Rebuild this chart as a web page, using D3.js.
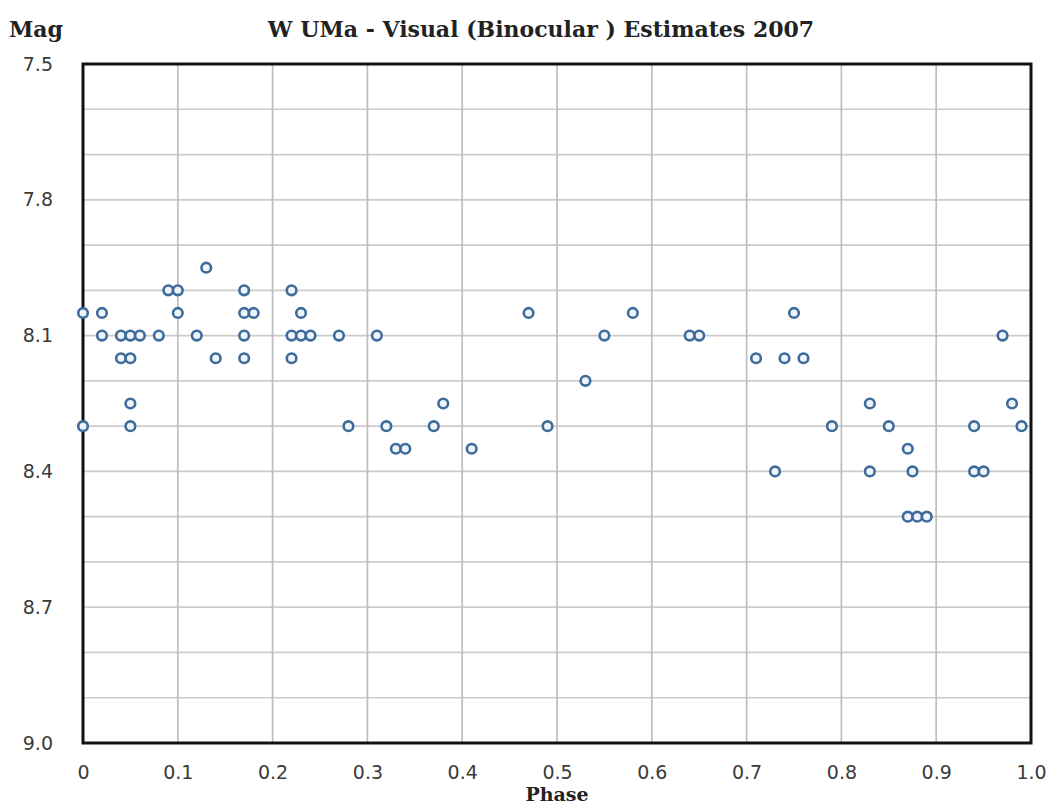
<!DOCTYPE html>
<html>
<head>
<meta charset="utf-8">
<script src="https://cdn.jsdelivr.net/npm/d3@7"></script>
<style>
  html, body { margin: 0; padding: 0; background: #fff; }
  svg { display: block; }
</style>
</head>
<body>
<div id="chart"></div>
<script>
// ---- Data ----
const title = "W UMa - Visual (Binocular ) Estimates 2007";
const xLabel = "Phase";
const yLabel = "Mag";
const xTicks = [0, 0.1, 0.2, 0.3, 0.4, 0.5, 0.6, 0.7, 0.8, 0.9, 1.0];
const xTickLabels = ["0", "0.1", "0.2", "0.3", "0.4", "0.5", "0.6", "0.7", "0.8", "0.9", "1.0"];
const yTicks = [7.5, 7.8, 8.1, 8.4, 8.7, 9.0];
const yTickLabels = ["7.5", "7.8", "8.1", "8.4", "8.7", "9.0"];
const phase = [
  0.13,
  0.09, 0.10, 0.17, 0.22,
  0.00, 0.02, 0.10, 0.17, 0.18, 0.23, 0.47, 0.58, 0.75,
  0.02, 0.04, 0.05, 0.06, 0.08, 0.12, 0.17, 0.22, 0.23, 0.24, 0.27, 0.31, 0.55, 0.64, 0.65, 0.97,
  0.04, 0.05, 0.14, 0.17, 0.22, 0.71, 0.74, 0.76,
  0.53,
  0.05, 0.38, 0.83, 0.98,
  0.00, 0.05, 0.28, 0.32, 0.37, 0.49, 0.79, 0.85, 0.94, 0.99,
  0.33, 0.34, 0.41, 0.87,
  0.73, 0.83, 0.875, 0.94, 0.95,
  0.87, 0.88, 0.89
];
const mag = [
  7.95,
  8.00, 8.00, 8.00, 8.00,
  8.05, 8.05, 8.05, 8.05, 8.05, 8.05, 8.05, 8.05, 8.05,
  8.10, 8.10, 8.10, 8.10, 8.10, 8.10, 8.10, 8.10, 8.10, 8.10, 8.10, 8.10, 8.10, 8.10, 8.10, 8.10,
  8.15, 8.15, 8.15, 8.15, 8.15, 8.15, 8.15, 8.15,
  8.20,
  8.25, 8.25, 8.25, 8.25,
  8.30, 8.30, 8.30, 8.30, 8.30, 8.30, 8.30, 8.30, 8.30, 8.30,
  8.35, 8.35, 8.35, 8.35,
  8.40, 8.40, 8.40, 8.40, 8.40,
  8.50, 8.50, 8.50
];
const gridX = [0.1, 0.2, 0.3, 0.4, 0.5, 0.6, 0.7, 0.8, 0.9];
const gridY = [7.6, 7.7, 7.8, 7.9, 8.0, 8.1, 8.2, 8.3, 8.4, 8.5, 8.6, 8.7, 8.8, 8.9];

// ---- Layout ----
const W = 1049, H = 804;
const pL = 83, pR = 1031, pT = 64, pB = 743;

const x = d3.scaleLinear().domain([0, 1]).range([pL, pR]);
const y = d3.scaleLinear().domain([7.5, 9.0]).range([pT, pB]);

const svg = d3.select("#chart").append("svg")
  .attr("width", W).attr("height", H);

// grid
svg.append("g").selectAll("line").data(gridY).join("line")
  .attr("x1", pL).attr("x2", pR)
  .attr("y1", d => y(d)).attr("y2", d => y(d))
  .attr("stroke", "#cbcbcb").attr("stroke-width", 1.7);
svg.append("g").selectAll("line").data(gridX).join("line")
  .attr("y1", pT).attr("y2", pB)
  .attr("x1", d => x(d)).attr("x2", d => x(d))
  .attr("stroke", "#bdbdbd").attr("stroke-width", 1.7);

// frame
svg.append("rect")
  .attr("x", pL).attr("y", pT)
  .attr("width", pR - pL).attr("height", pB - pT)
  .attr("fill", "none").attr("stroke", "#111").attr("stroke-width", 3);

// axes (labels only)
const tickFont = "DejaVu Sans, Liberation Sans, Arial, sans-serif";
const xAxis = d3.axisBottom(x).tickValues(xTicks)
  .tickFormat((d, i) => xTickLabels[i]).tickSize(0).tickPadding(0);
const gx = svg.append("g").attr("transform", `translate(0,${pB})`).call(xAxis);
gx.select(".domain").remove();
gx.selectAll("text")
  .attr("y", 36).attr("dy", "0")
  .attr("font-family", tickFont)
  .attr("font-size", 19).attr("fill", "#3a3a3a");

const yAxis = d3.axisLeft(y).tickValues(yTicks)
  .tickFormat((d, i) => yTickLabels[i]).tickSize(0).tickPadding(0);
const gy = svg.append("g").attr("transform", `translate(${pL},0)`).call(yAxis);
gy.select(".domain").remove();
gy.selectAll("text")
  .attr("x", -30)
  .attr("font-family", tickFont)
  .attr("font-size", 19).attr("fill", "#3a3a3a");

// points
const pts = phase.map((p, i) => ({ p, m: mag[i] }));
svg.append("g").selectAll("circle").data(pts).join("circle")
  .attr("cx", d => x(d.p)).attr("cy", d => y(d.m))
  .attr("r", 4.8)
  .attr("fill", "#eef4fa")
  .attr("stroke", "#3e6b9a").attr("stroke-width", 2.6);

// titles
const serif = "DejaVu Serif, Liberation Serif, serif";
svg.append("text")
  .attr("x", 541).attr("y", 37)
  .attr("text-anchor", "middle")
  .attr("font-family", serif)
  .attr("font-weight", "bold").attr("font-size", 22).attr("fill", "#222")
  .text(title);
svg.append("text")
  .attr("x", 9).attr("y", 37)
  .attr("font-family", serif)
  .attr("font-weight", "bold").attr("font-size", 22).attr("fill", "#222")
  .text(yLabel);
svg.append("text")
  .attr("x", 557).attr("y", 801)
  .attr("text-anchor", "middle")
  .attr("font-family", serif)
  .attr("font-weight", "bold").attr("font-size", 19).attr("fill", "#222")
  .text(xLabel);
</script>
</body>
</html>
